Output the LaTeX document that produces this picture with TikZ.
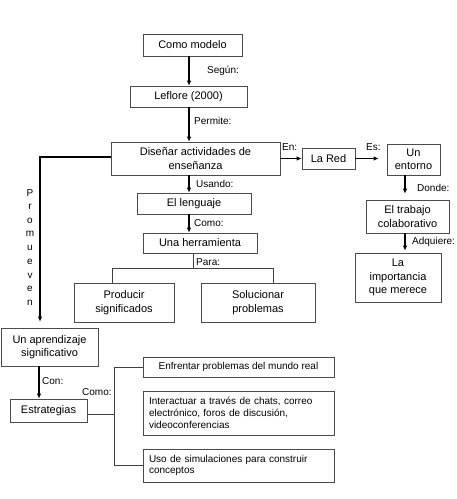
\documentclass[tikz,border=0pt]{standalone}
\usepackage{fontspec}
\setmainfont{Liberation Sans}
\usetikzlibrary{arrows.meta}
\begin{document}
\begin{tikzpicture}[x=1pt,y=-1pt,
  box/.style={draw=black!70,line width=0.7pt,inner sep=0pt,align=center,font=\fontsize{11}{13.5}\selectfont},
  lbox/.style={draw=black!70,line width=0.7pt,inner sep=0pt,font=\fontsize{10}{11.8}\selectfont},
  lab/.style={anchor=west,inner sep=0pt,font=\fontsize{10}{11}\selectfont},
  arr/.style={line width=1.2pt,-{Latex[length=5pt,width=4.5pt]}},
  ln/.style={draw=black!75,line width=0.7pt}]
\useasboundingbox (0,0) rectangle (457,499);
\fill[white] (0,0) rectangle (457,499);
% nodes
\node[box,minimum width=99pt,minimum height=22pt] (cm) at (192.5,45) {Como modelo};
\node[box,minimum width=117pt,minimum height=21pt] (lf) at (188.5,96.5) {Leflore (2000)};
\node[box,minimum width=169pt,minimum height=33pt] (dis) at (195.5,158.5) {Diseñar actividades de\\enseñanza};
\node[box,minimum width=53pt,minimum height=21pt] (red) at (328.5,158.5) {La Red};
\node[box,minimum width=53pt,minimum height=31pt] (ent) at (413.5,159.5) {Un\\entorno};
\node[box,minimum width=83pt,minimum height=33pt] (trab) at (407.5,216.5) {El trabajo\\colaborativo};
\node[box,minimum width=86pt,minimum height=49pt] (imp) at (398,277.5) {La\\importancia\\que merece};
\node[box,minimum width=114pt,minimum height=21pt] (len) at (194,203.5) {El lenguaje};
\node[box,minimum width=114pt,minimum height=20pt] (her) at (200,243) {Una herramienta};
\node[box,minimum width=100pt,minimum height=39pt] (pro) at (124,302.5) {Producir\\significados};
\node[box,minimum width=114pt,minimum height=39pt] (sol) at (258,302.5) {Solucionar\\problemas};
\node[box,minimum width=97pt,minimum height=38pt] (apr) at (49.5,347) {Un aprendizaje\\significativo};
\node[box,minimum width=77pt,minimum height=23pt] (est) at (48.5,410.5) {Estrategias};
\node[lbox,minimum width=191pt,minimum height=20pt,align=center] (enf) at (238.5,367) {Enfrentar problemas del mundo real};
\node[lbox,minimum width=191pt,minimum height=44pt,align=left,text width=179pt] (int) at (238.5,413) {Interactuar a través de chats, correo\\electrónico, foros de discusión,\\videoconferencias};
\node[lbox,minimum width=191pt,minimum height=33pt,align=left,text width=179pt] (uso) at (238.5,465.5) {Uso de simulaciones para construir\\conceptos};
% helper coordinates
\coordinate (xa) at (189,0);
\coordinate (xb) at (405,0);
\coordinate (xp) at (193,0);
\coordinate (pl) at (112,268);
\coordinate (pr) at (273,268);
\coordinate (pm) at (193,268);
\coordinate (pv) at (40,157);
\coordinate (tx) at (114,414);
% main arrows
\draw[arr] (cm.south -| xa) -- (lf.north -| xa);
\draw[arr] (lf.south -| xa) -- (dis.north -| xa);
\draw[arr] (dis.south -| xa) -- (len.north -| xa);
\draw[arr] (len.south -| xa) -- (her.north -| xa);
\draw[arr] (dis.east |- red.west) -- (red.west);
\draw[arr,shorten >=8pt] (red.east) -- (red.east -| ent.west);
\draw[arr,shorten >=6pt] (ent.south -| xb) -- (trab.north -| xb);
\draw[arr,shorten >=2pt] (trab.south -| xb) -- (imp.north -| xb);
% Promueven
\draw[arr,shorten >=6pt] (dis.west |- pv) -- (pv) -- (pv |- apr.north);
\draw[arr] (apr.south -| 39,0) -- (est.north -| 39,0);
% Para tree
\draw[ln] (her.south -| xp) -- (pm);
\draw[ln] (pl |- pro.north) -- (pl) -- (pr) -- (pr |- sol.north);
% Como tree
\draw[ln] (est.east |- tx) -- (tx);
\draw[ln] (enf.west) -- (enf.west -| tx) -- (uso.west -| tx) -- (uso.west);
% labels
\node[lab] (l1) at (207,71) {Según:};
\node[lab] (l2) at (194,121) {Permite:};
\node[lab] (l3) at (196,183.5) {Usando:};
\node[lab] (l4) at (194,223) {Como:};
\node[lab] (l5) at (196,262) {Para:};
\node[lab] (l6) at (282,147) {En:};
\node[lab] (l7) at (366,147) {Es:};
\node[lab] (l8) at (417,188) {Donde:};
\node[lab] (l9) at (412,242) {Adquiere:};
\node[lab] (l10) at (42,381) {Con:};
\node[lab] (l11) at (82,392) {Como:};
\foreach \c [count=\i from 0] in {P,r,o,m,u,e,v,e,n}
  \node[inner sep=0pt,font=\fontsize{10}{11}\selectfont] (pm\i) at (30,193+13.75*\i) {\c};
\end{tikzpicture}
\end{document}
